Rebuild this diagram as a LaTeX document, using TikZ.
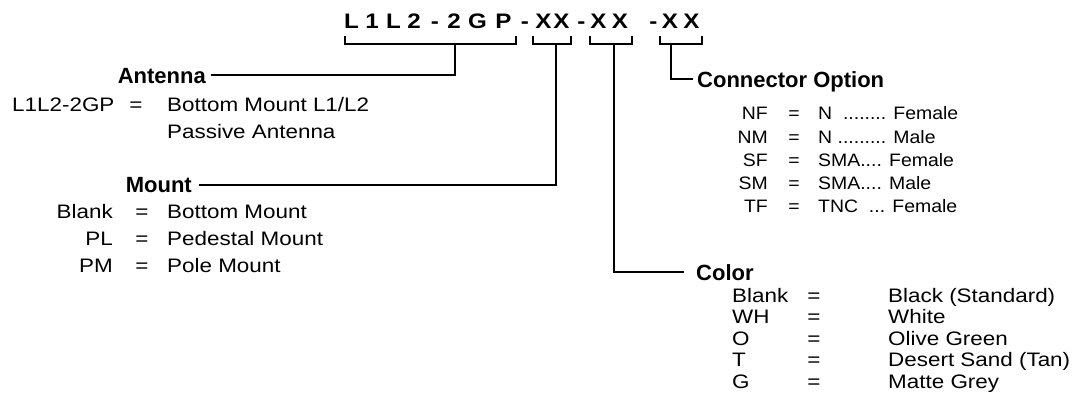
\documentclass[tikz,border=0pt]{standalone}
\usepackage{fontspec}
\newfontfamily\arialw[FakeStretch=1.15]{Liberation Sans}
\newfontfamily\arialc[FakeStretch=1.08]{Liberation Sans}
\newfontfamily\arialh{Liberation Sans}
\begin{document}
\begin{tikzpicture}[x=1pt,y=-1pt,
  ttl/.style={inner sep=0pt, anchor=base, font=\arialw\bfseries\fontsize{21}{21}\selectfont},
  hdr/.style={inner sep=0pt, font=\arialh\bfseries\fontsize{22}{22}\selectfont},
  lbl/.style={inner sep=0pt, font=\arialw\fontsize{19.5}{19.5}\selectfont},
  sml/.style={inner sep=0pt, font=\arialc\fontsize{18}{18}\selectfont},
  wire/.style={line width=2pt, line cap=rect, line join=miter}]
\useasboundingbox (0,0) rectangle (1083,416);
% title
\foreach \c/\x [count=\i] in {L/351.5,1/372,L/393.5,2/414,-/435,2/454,G/477.5,P/503.5,-/525,X/543.5,X/561.5,-/581.5,X/598.5,X/620,-/653.5,X/670,X/691.5}
  \node[ttl] (t\i) at (\x,28) {\c};
% brackets
\coordinate (b1l) at (345,37); \coordinate (b1r) at (516,37); \coordinate (b1s) at (455,44);
\coordinate (b2l) at (533,37); \coordinate (b2r) at (571,37); \coordinate (b2s) at (556,44);
\coordinate (b3l) at (590,37); \coordinate (b3r) at (632,37); \coordinate (b3s) at (614,44);
\coordinate (b4l) at (660,37); \coordinate (b4r) at (702,37); \coordinate (b4s) at (671,44);
\draw[wire] (b1l) -- (345,44) -- (516,44) -- (b1r);
\draw[wire] (b2l) -- (533,44) -- (571,44) -- (b2r);
\draw[wire] (b3l) -- (590,44) -- (632,44) -- (b3r);
\draw[wire] (b4l) -- (660,44) -- (702,44) -- (b4r);
% Antenna
\node[hdr, anchor=base east] (ant) at (206,83) {Antenna};
\coordinate (antE) at (212,75);
\draw[wire] (b1s) |- (antE);
\node[lbl, anchor=base west] (a1k) at (12,111) {L1L2-2GP};
\node[lbl, anchor=base] (a1e) at (136,111) {=};
\node[lbl, anchor=base west] (a1v) at (167,111) {Bottom Mount L1/L2};
\node[lbl, anchor=base west] (a2v) at (167,138) {Passive Antenna};
% Mount
\node[hdr, anchor=base east] (mnt) at (192,192) {Mount};
\coordinate (mntE) at (200,185);
\draw[wire] (b2s) |- (mntE);
\foreach \k/\v/\y [count=\i] in {Blank/Bottom Mount/218, PL/Pedestal Mount/245, PM/Pole Mount/272}{
  \node[lbl, anchor=base east] (mk\i) at (113,\y) {\k};
  \node[lbl, anchor=base] (me\i) at (142,\y) {=};
  \node[lbl, anchor=base west] (mv\i) at (167,\y) {\v};
}
% Connector option
\node[hdr, anchor=base west] (con) at (697,87) {Connector Option};
\coordinate (conW) at (692,79);
\draw[wire] (b4s) |- (conW);
\foreach \k/\v/\y [count=\i] in {NF/{N\ \ ........ Female}/119.5, NM/{N ......... Male}/143, SF/{SMA.... Female}/166.5, SM/{SMA.... Male}/189.5, TF/{TNC\ \ ... Female}/212.5}{
  \node[sml, anchor=base east] (ck\i) at (768,\y) {\k};
  \node[sml, anchor=base] (ce\i) at (794,\y) {=};
  \node[sml, anchor=base west] (cv\i) at (818,\y) {\v};
}
% Color
\node[hdr, anchor=base west] (col) at (696,280) {Color};
\coordinate (colW) at (683,272);
\draw[wire] (b3s) |- (colW);
\foreach \k/\v/\y [count=\i] in {Blank/Black (Standard)/302, WH/White/323.5, O/Olive Green/345, T/Desert Sand (Tan)/366.5, G/Matte Grey/388}{
  \node[lbl, anchor=base west] (kk\i) at (732,\y) {\k};
  \node[lbl, anchor=base] (ke\i) at (814,\y) {=};
  \node[lbl, anchor=base west] (kv\i) at (888,\y) {\v};
}
\end{tikzpicture}
\end{document}
